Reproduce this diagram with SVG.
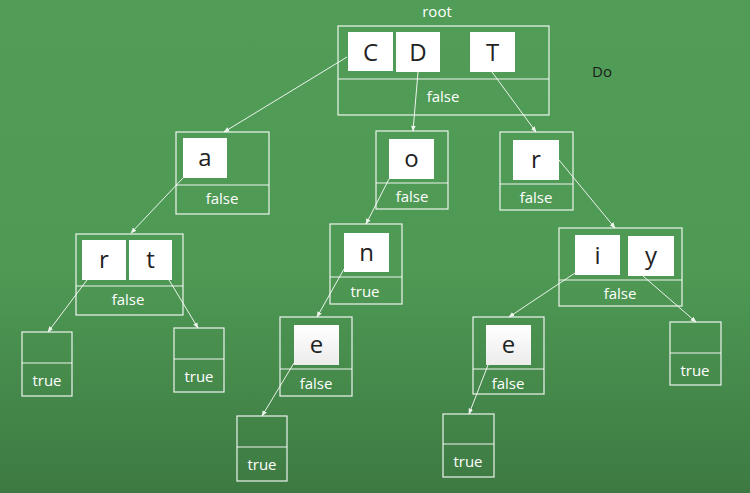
<svg xmlns="http://www.w3.org/2000/svg" width="750" height="493" viewBox="0 0 750 493">
<defs>
<linearGradient id="bg" x1="0" y1="0" x2="0" y2="1">
<stop offset="0" stop-color="#519d57"/>
<stop offset="0.55" stop-color="#4e9954"/>
<stop offset="1" stop-color="#3d7a43"/>
</linearGradient>
<linearGradient id="cellg" x1="0" y1="0" x2="0" y2="1">
<stop offset="0" stop-color="#ffffff"/>
<stop offset="1" stop-color="#ececec"/>
</linearGradient>
<marker id="ah" viewBox="0 0 10 10" refX="9" refY="5" markerWidth="6" markerHeight="6" orient="auto-start-reverse">
<path d="M0,1 L10,5 L0,9 z" fill="#ffffff"/>
</marker>
</defs>
<style>
.box{fill:none;stroke:#ffffff;stroke-width:1.2;opacity:0.9}
.cell{fill:#ffffff;stroke:none}
.cellg{fill:url(#cellg);stroke:none}
.ch{font-family:"Open Sans","Liberation Sans",sans-serif;font-size:24px;fill:#222222;text-anchor:middle}
.lbl{font-family:"Open Sans","Liberation Sans",sans-serif;font-size:15px;fill:#ffffff;text-anchor:middle}
.dark{font-family:"Open Sans","Liberation Sans",sans-serif;font-size:15px;fill:#1a1a1a;text-anchor:middle}
.con line{stroke:#ffffff;stroke-width:1;opacity:0.9;marker-end:url(#ah)}
</style>
<rect x="0" y="0" width="750" height="493" fill="url(#bg)"/>
<text class="lbl" x="437" y="17">root</text>
<text class="dark" x="602" y="77">Do</text>

<g id="root">
<rect class="box" x="338" y="26" width="211" height="89"/>
<line class="box" x1="338" y1="79" x2="549" y2="79"/>
<rect class="cell" x="348" y="32" width="45" height="39"/>
<rect class="cell" x="396" y="32" width="44" height="40"/>
<rect class="cell" x="470" y="32" width="45" height="40"/>
<text class="ch" x="370.5" y="61">C</text>
<text class="ch" x="418" y="61">D</text>
<text class="ch" x="492.5" y="61">T</text>
<text class="lbl" x="443" y="102">false</text>
</g>

<g id="node-a">
<rect class="box" x="176" y="132" width="93" height="82"/>
<line class="box" x1="176" y1="185" x2="269" y2="185"/>
<rect class="cell" x="183" y="138" width="44" height="40"/>
<text class="ch" x="205" y="166">a</text>
<text class="lbl" x="222" y="204">false</text>
</g>

<g id="node-rt">
<rect class="box" x="76" y="234" width="107" height="81"/>
<line class="box" x1="76" y1="286" x2="183" y2="286"/>
<rect class="cell" x="82" y="240" width="44" height="40"/>
<rect class="cell" x="129" y="240" width="43" height="40"/>
<text class="ch" x="104" y="268">r</text>
<text class="ch" x="150.5" y="268">t</text>
<text class="lbl" x="128" y="305">false</text>
</g>

<g id="leaf-r">
<rect class="box" x="22" y="332" width="50" height="64"/>
<line class="box" x1="22" y1="363" x2="72" y2="363"/>
<text class="lbl" x="47" y="386">true</text>
</g>

<g id="leaf-t">
<rect class="box" x="174" y="328" width="50" height="64"/>
<line class="box" x1="174" y1="359" x2="224" y2="359"/>
<text class="lbl" x="199" y="382">true</text>
</g>

<g id="node-o">
<rect class="box" x="376" y="131" width="72" height="78"/>
<line class="box" x1="376" y1="183" x2="448" y2="183"/>
<rect class="cell" x="389" y="139" width="45" height="40"/>
<text class="ch" x="411.5" y="167">o</text>
<text class="lbl" x="412" y="202">false</text>
</g>

<g id="node-n">
<rect class="box" x="330" y="224" width="72" height="80"/>
<line class="box" x1="330" y1="277" x2="402" y2="277"/>
<rect class="cell" x="344" y="233" width="45" height="39"/>
<text class="ch" x="366.5" y="261">n</text>
<text class="lbl" x="365" y="297">true</text>
</g>

<g id="node-e1">
<rect class="box" x="280" y="317" width="72" height="79"/>
<line class="box" x1="280" y1="369" x2="352" y2="369"/>
<rect class="cellg" x="294" y="325" width="45" height="40"/>
<text class="ch" x="316.5" y="353">e</text>
<text class="lbl" x="316" y="389">false</text>
</g>

<g id="leaf-e1">
<rect class="box" x="237" y="416" width="50" height="65"/>
<line class="box" x1="237" y1="447" x2="287" y2="447"/>
<text class="lbl" x="262" y="470">true</text>
</g>

<g id="node-r">
<rect class="box" x="500" y="132" width="73" height="78"/>
<line class="box" x1="500" y1="184" x2="573" y2="184"/>
<rect class="cell" x="513" y="140" width="46" height="40"/>
<text class="ch" x="536" y="168">r</text>
<text class="lbl" x="536" y="203">false</text>
</g>

<g id="node-iy">
<rect class="box" x="559" y="228" width="123" height="78"/>
<line class="box" x1="559" y1="280" x2="682" y2="280"/>
<rect class="cell" x="575" y="235" width="45" height="40"/>
<rect class="cell" x="628" y="236" width="46" height="40"/>
<text class="ch" x="597.5" y="264">i</text>
<text class="ch" x="651" y="264">y</text>
<text class="lbl" x="620" y="299">false</text>
</g>

<g id="node-e2">
<rect class="box" x="473" y="317" width="71" height="77"/>
<line class="box" x1="473" y1="369" x2="544" y2="369"/>
<rect class="cellg" x="486" y="325" width="45" height="40"/>
<text class="ch" x="508.5" y="353">e</text>
<text class="lbl" x="508" y="389">false</text>
</g>

<g id="leaf-e2">
<rect class="box" x="443" y="414" width="51" height="63"/>
<line class="box" x1="443" y1="444" x2="494" y2="444"/>
<text class="lbl" x="468" y="467">true</text>
</g>

<g id="leaf-y">
<rect class="box" x="670" y="322" width="51" height="63"/>
<line class="box" x1="670" y1="353" x2="721" y2="353"/>
<text class="lbl" x="695" y="376">true</text>
</g>

<g id="connectors" class="con">
<line x1="347" y1="57" x2="224" y2="132"/>
<line x1="418" y1="72" x2="413" y2="131"/>
<line x1="492" y1="72" x2="536" y2="132"/>
<line x1="183" y1="178" x2="131" y2="233"/>
<line x1="87" y1="280" x2="48" y2="332"/>
<line x1="169" y1="280" x2="198" y2="328"/>
<line x1="389" y1="179" x2="366" y2="224"/>
<line x1="344" y1="269" x2="317" y2="317"/>
<line x1="294" y1="363" x2="262" y2="416"/>
<line x1="559" y1="160" x2="615" y2="228"/>
<line x1="575" y1="273" x2="509" y2="317"/>
<line x1="643" y1="276" x2="696" y2="322"/>
<line x1="488" y1="365" x2="469" y2="414"/>
</g>
</svg>
